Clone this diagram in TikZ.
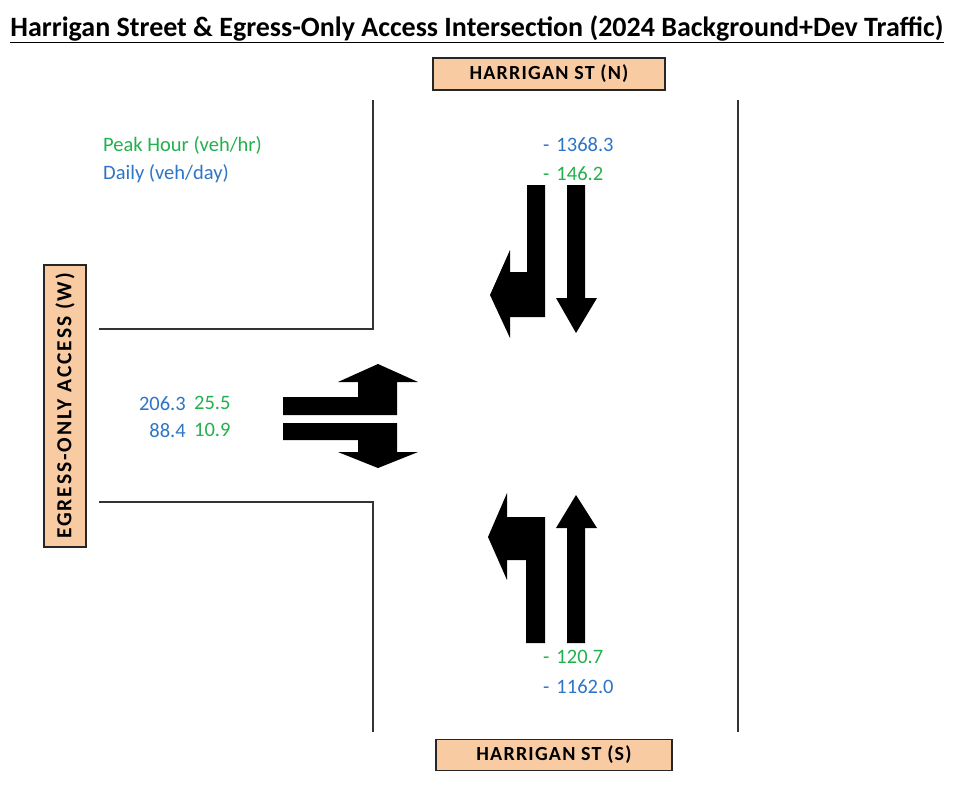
\documentclass[tikz,border=0pt]{standalone}
\usepackage{fontspec}
\setmainfont{Carlito}
\usetikzlibrary{positioning}
\definecolor{TrafGreen}{HTML}{22B14C}
\definecolor{TrafBlue}{HTML}{2E75C6}
\definecolor{TrafPeach}{HTML}{F9CBA2}
\definecolor{TrafRoad}{HTML}{333333}

\begin{document}
\begin{tikzpicture}[x=1pt,y=-1pt]
  \tikzset{st/.style={draw=black!85,line width=1.6pt,fill=TrafPeach,inner sep=0pt,font=\fontsize{20}{22}\selectfont\bfseries\addfontfeatures{LetterSpace=6}},
    road/.style={draw=TrafRoad,line width=1.8pt},
    arr/.style={fill=black},
    pk/.style={text=TrafGreen,inner sep=0pt,font=\fontsize{20.5}{23}\selectfont},
    dy/.style={text=TrafBlue,inner sep=0pt,font=\fontsize{20.5}{23}\selectfont}}
  \useasboundingbox[fill=white] (0,0) rectangle (957,787);
  % title
  \node[inner sep=0pt,anchor=base,font=\fontsize{28}{30}\selectfont\bfseries] (title) at (477,36)
    {\underline{Harrigan Street \& Egress-Only Access Intersection (2024 Background+Dev Traffic)}};
  % street labels
  \node[st,minimum width=232pt,minimum height=32pt] (hn) at (549,74) {HARRIGAN ST (N)};
  \node[st,minimum width=236pt,minimum height=31pt] (hs) at (554,755) {HARRIGAN ST (S)};
  \node[st,rotate=90,minimum width=282pt,minimum height=42pt,font=\fontsize{21.5}{24}\selectfont\bfseries\addfontfeatures{LetterSpace=9}] (ew) at (65,406) {EGRESS-ONLY ACCESS (W)};
  % curbs
  \draw[road] (373,100) -- (373,329) -- (99,329);
  \draw[road] (99,502) -- (373,502) -- (373,732);
  \draw[road] (738,100) -- (738,732);
  % legend
  \node[pk,anchor=base west] (peak) at (103,151) {Peak Hour (veh/hr)};
  \node[dy,anchor=base west] (daily) at (103,179) {Daily (veh/day)};
  % north approach
  \node[dy,anchor=base west] (nd) at (543,151) {-\hspace{7pt}1368.3};
  \node[pk,anchor=base west] (np) at (543,180) {-\hspace{7pt}146.2};
  \fill[arr] (527,185) -- (545,185) -- (545,317) -- (510,317) -- (510,338) -- (490,295)
    -- (510,250) -- (510,272) -- (527,272) -- cycle;
  \fill[arr] (567,185) -- (585,185) -- (585,298) -- (597,298) -- (576,333) -- (556,298)
    -- (567,298) -- cycle;
  % west approach
  \node[dy,anchor=base east] (wd1) at (186,410) {206.3};
  \node[dy,anchor=base east] (wd2) at (186,437) {88.4};
  \node[pk,right=8pt of wd1] (wp1) {25.5};
  \node[pk,right=8pt of wd2] (wp2) {10.9};
  \fill[arr] (283,415) -- (397,415) -- (397,382) -- (418,382) -- (378,364) -- (338,382)
    -- (358,382) -- (358,397) -- (283,397) -- cycle;
  \fill[arr] (283,423) -- (397,423) -- (397,452) -- (418,452) -- (378,468) -- (338,452)
    -- (358,452) -- (358,440) -- (283,440) -- cycle;
  % south approach
  \fill[arr] (526,643) -- (545,643) -- (545,517) -- (507,517) -- (507,493) -- (488,537)
    -- (507,580) -- (507,560) -- (526,560) -- cycle;
  \fill[arr] (567,643) -- (585,643) -- (585,528) -- (597,528) -- (576,495) -- (556,528)
    -- (567,528) -- cycle;
  \node[pk,anchor=base west] (sp) at (543,663) {-\hspace{7pt}120.7};
  \node[dy,anchor=base west] (sd) at (543,693) {-\hspace{7pt}1162.0};
\end{tikzpicture}
\end{document}
